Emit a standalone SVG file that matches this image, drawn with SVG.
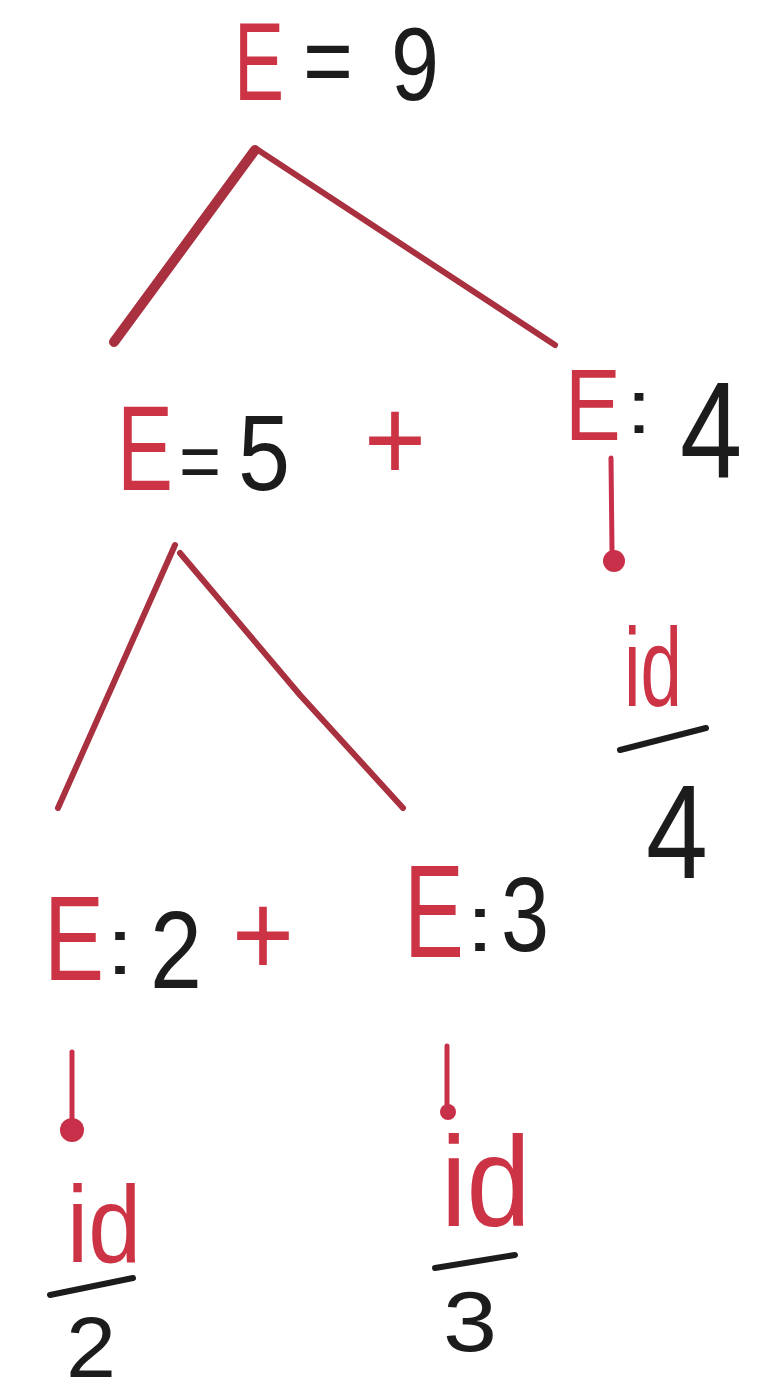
<svg xmlns="http://www.w3.org/2000/svg" width="766" height="1398" viewBox="0 0 766 1398">
<style>
text{font-family:"Liberation Sans",Arial,sans-serif;}
.r{fill:#cc3344;}
.k{fill:#1c1c1c;}
.ln{stroke:#a8303f;stroke-width:6;fill:none;stroke-linecap:round;stroke-linejoin:round;}
.ar{stroke:#c8304a;stroke-width:5;fill:none;stroke-linecap:round;}
.dot{fill:#c8304a;}
.bar{stroke:#1c1c1c;stroke-width:6;stroke-linecap:round;}
</style>
<rect width="766" height="1398" fill="#ffffff"/>
<g id="connectors">
<line class="ln" x1="255" y1="150" x2="114" y2="342" style="stroke-width:10"/>
<line class="ln" x1="258" y1="150" x2="555" y2="345"/>
<line class="ln" x1="175" y1="545" x2="58" y2="808"/>
<polyline class="ln" points="180,553 300,695 403,808"/>
<line class="ar" x1="611" y1="458" x2="612" y2="550"/>
<circle class="dot" cx="614" cy="561" r="11"/>
<line class="ar" x1="72" y1="1052" x2="72" y2="1118"/>
<circle class="dot" cx="72" cy="1130" r="12"/>
<line class="ar" x1="447" y1="1046" x2="447" y2="1104"/>
<circle class="dot" cx="448" cy="1112" r="8"/>
</g>
<g id="node-e9">
<text class="r" font-size="112" transform="translate(234,100) scale(0.67,1)">E</text>
<text class="k" font-size="100" transform="translate(303,95) scale(0.856,1)">=</text>
<text class="k" font-size="104" transform="translate(391,100) scale(0.83,1)">9</text>
</g>
<g id="node-e5">
<text class="r" font-size="120" transform="translate(117,490) scale(0.7,1)">E</text>
<text class="k" font-size="80" transform="translate(179,488) scale(0.9,1)">=</text>
<text class="k" font-size="108" transform="translate(238,490) scale(0.867,1)">5</text>
<text class="r" font-size="118" transform="translate(364,480) scale(0.9,1)">+</text>
</g>
<g id="node-e4">
<text class="r" font-size="102" transform="translate(565,440) scale(0.82,1)">E</text>
<text class="k" font-size="76" transform="translate(626,433) scale(1.23,1)">:</text>
<text class="k" font-size="138" transform="translate(680,477) scale(0.81,1)">4</text>
</g>
<g id="node-id4">
<text class="r" font-size="112" transform="translate(624,706) scale(0.666,1)">id</text>
<line class="bar" x1="620" y1="750" x2="706" y2="728"/>
<text class="k" font-size="134" transform="translate(646,878) scale(0.83,1)">4</text>
</g>
<g id="node-e2">
<text class="r" font-size="120" transform="translate(44,980) scale(0.75,1)">E</text>
<text class="k" font-size="80" transform="translate(106,974) scale(1.26,1)">:</text>
<text class="k" font-size="110" transform="translate(150,988) scale(0.85,1)">2</text>
<text class="r" font-size="118" transform="translate(232,975) scale(0.9,1)">+</text>
</g>
<g id="node-e3">
<text class="r" font-size="132" transform="translate(404,957) scale(0.68,1)">E</text>
<text class="k" font-size="80" transform="translate(466,951) scale(1.26,1)">:</text>
<text class="k" font-size="106" transform="translate(501,951) scale(0.815,1)">3</text>
</g>
<g id="node-id2">
<text class="r" font-size="110" transform="translate(67,1262) scale(0.865,1)">id</text>
<line class="bar" x1="50" y1="1295" x2="133" y2="1278"/>
<text class="k" font-size="86" transform="translate(66,1377) scale(1.046,1)">2</text>
</g>
<g id="node-id3">
<text class="r" font-size="128" transform="translate(441,1226) scale(0.9,1)">id</text>
<line class="bar" x1="435" y1="1268" x2="515" y2="1255"/>
<text class="k" font-size="86" transform="translate(443,1351) scale(1.13,1)">3</text>
</g>
</svg>
